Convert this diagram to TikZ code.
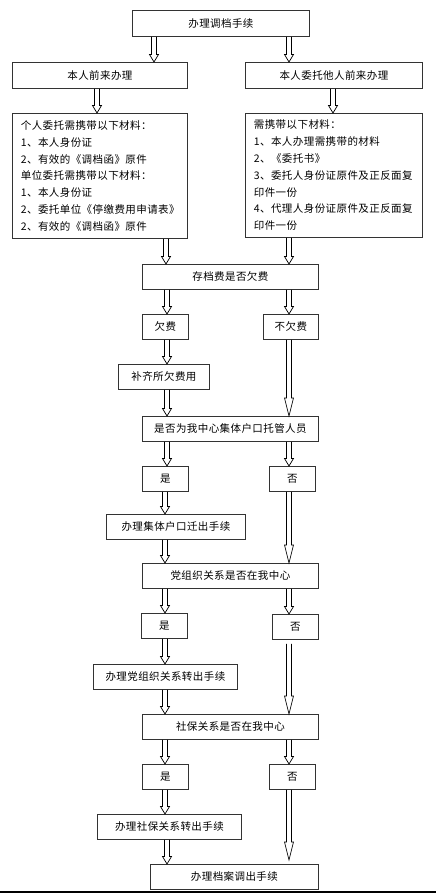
\documentclass[tikz,border=0pt]{standalone}
\usepackage{fontspec}
\setmainfont{Noto Sans CJK SC}[LetterSpace=4]
\usetikzlibrary{calc}
\tikzset{
  box/.style={draw=black!80, line width=0.8pt, anchor=north west, inner sep=0pt,
    font=\fontsize{10.5}{16.8}\selectfont},
  matbox/.style={box, inner xsep=8.5pt, align=left},
  blk/.style={line width=0.7pt, draw=black, line join=miter,
    to path={let \p1=(\tikztostart), \p2=(\tikztotarget) in
      (\x1-2.5pt,\y1) -- (\x1-2.5pt,\y2+#1) -- (\x1-4.5pt,\y2+#1) -- (\x1,\y2)
      -- (\x1+4.5pt,\y2+#1) -- (\x1+2.5pt,\y2+#1) -- (\x1+2.5pt,\y1)}},
  blk/.default=7.5pt
}
\begin{document}
\begin{tikzpicture}[x=1pt,y=-1pt]
\useasboundingbox (0,0) rectangle (436,893);
\fill[white] (0,0) rectangle (436,893);

% boxes
\node[box, minimum width=177pt, minimum height=26pt] (b1) at (132,10) {办理调档手续};
\node[box, minimum width=175pt, minimum height=26pt] (b2) at (12,62) {本人前来办理};
\node[box, minimum width=177pt, minimum height=26pt] (b3) at (245,62) {本人委托他人前来办理};
\node[matbox, text width=158pt, minimum height=125pt] (b4) at (12,113) {个人委托需携带以下材料：\\1、本人身份证\\2、有效的《调档函》原件\\单位委托需携带以下材料：\\1、本人身份证\\2、委托单位《停缴费用申请表》\\2、有效的《调档函》原件};
\node[matbox, text width=160pt, minimum height=124pt] (b5) at (245,113) {需携带以下材料：\\1、本人办理需携带的材料\\2、《委托书》\\3、委托人身份证原件及正反面复\\印件一份\\4、代理人身份证原件及正反面复\\印件一份};
\node[box, minimum width=176pt, minimum height=25pt] (b6) at (142,264) {存档费是否欠费};
\node[box, minimum width=46pt, minimum height=25pt] (b7) at (142,314) {欠费};
\node[box, minimum width=55pt, minimum height=25pt] (b8) at (263,314) {不欠费};
\node[box, minimum width=91pt, minimum height=25pt] (b9) at (118,364) {补齐所欠费用};
\node[box, minimum width=176pt, minimum height=25pt] (b10) at (142,416) {是否为我中心集体户口托管人员};
\node[box, minimum width=46pt, minimum height=25pt] (b11) at (142,466) {是};
\node[box, minimum width=46pt, minimum height=25pt] (b12) at (269,466) {否};
\node[box, minimum width=139pt, minimum height=25pt] (b13) at (106,514) {办理集体户口迁出手续};
\node[box, minimum width=176pt, minimum height=25pt] (b14) at (142,563) {党组织关系是否在我中心};
\node[box, minimum width=46pt, minimum height=25pt] (b15) at (141,613) {是};
\node[box, minimum width=46pt, minimum height=25pt] (b16) at (272,614) {否};
\node[box, minimum width=144pt, minimum height=25pt] (b17) at (93,664) {办理党组织关系转出手续};
\node[box, minimum width=176pt, minimum height=25pt] (b18) at (142,714) {社保关系是否在我中心};
\node[box, minimum width=46pt, minimum height=25pt] (b19) at (142,764) {是};
\node[box, minimum width=46pt, minimum height=25pt] (b20) at (269,764) {否};
\node[box, minimum width=144pt, minimum height=25pt] (b21) at (97,814) {办理社保关系转出手续};
\node[box, minimum width=168pt, minimum height=25pt] (b22) at (150,864) {办理档案调出手续};

% bottom bar
\fill[black] (0,891) rectangle (436,893);

% arrow x positions
\coordinate (cA) at (154,0);
\coordinate (cB) at (289,0);
\coordinate (cC) at (97,0);
\coordinate (cD) at (333,0);
\coordinate (cE) at (166,0);
\coordinate (cF) at (167,0);
\coordinate (cG) at (165,0);
\coordinate (s16) at ([yshift=-4pt]b16.south);
\coordinate (e22) at ([yshift=4pt]b22.north);

% arrows
\draw[blk] (b1.south -| cA) to (b2.north -| cA);
\draw[blk] (b1.south -| cB) to (b3.north -| cB);
\draw[blk] (b2.south -| cC) to (b4.north -| cC);
\draw[blk] (b3.south -| cD) to (b5.north -| cD);
\draw[blk] (b4.south -| cE) to (b6.north -| cE);
\draw[blk] (b5.south -| cB) to (b6.north -| cB);
\draw[blk] (b6.south -| cF) to (b7.north -| cF);
\draw[blk] (b6.south -| cB) to (b8.north -| cB);
\draw[blk] (b7.south -| cF) to (b9.north -| cF);
\draw[blk] (b9.south -| cF) to (b10.north -| cF);
\draw[blk=18pt] (b8.south -| cB) to (b10.north -| cB);
\draw[blk] (b10.south -| cF) to (b11.north -| cF);
\draw[blk] (b10.south -| cB) to (b12.north -| cB);
\draw[blk] (b11.south -| cG) to (b13.north -| cG);
\draw[blk] (b13.south -| cG) to (b14.north -| cG);
\draw[blk=18pt] (b12.south -| cB) to (b14.north -| cB);
\draw[blk] (b14.south -| cG) to (b15.north -| cG);
\draw[blk] (b14.south -| cB) to (b16.north -| cB);
\draw[blk] (b15.south -| cG) to (b17.north -| cG);
\draw[blk=18pt] (s16 -| cB) to (b18.north -| cB);
\draw[blk] (b17.south -| cG) to (b18.north -| cG);
\draw[blk] (b18.south -| cG) to (b19.north -| cG);
\draw[blk] (b18.south -| cB) to (b20.north -| cB);
\draw[blk] (b19.south -| cG) to (b21.north -| cG);
\draw[blk] (b21.south -| cF) to (b22.north -| cF);
\draw[blk=18pt] (b20.south -| cB) to (e22 -| cB);
\end{tikzpicture}
\end{document}
